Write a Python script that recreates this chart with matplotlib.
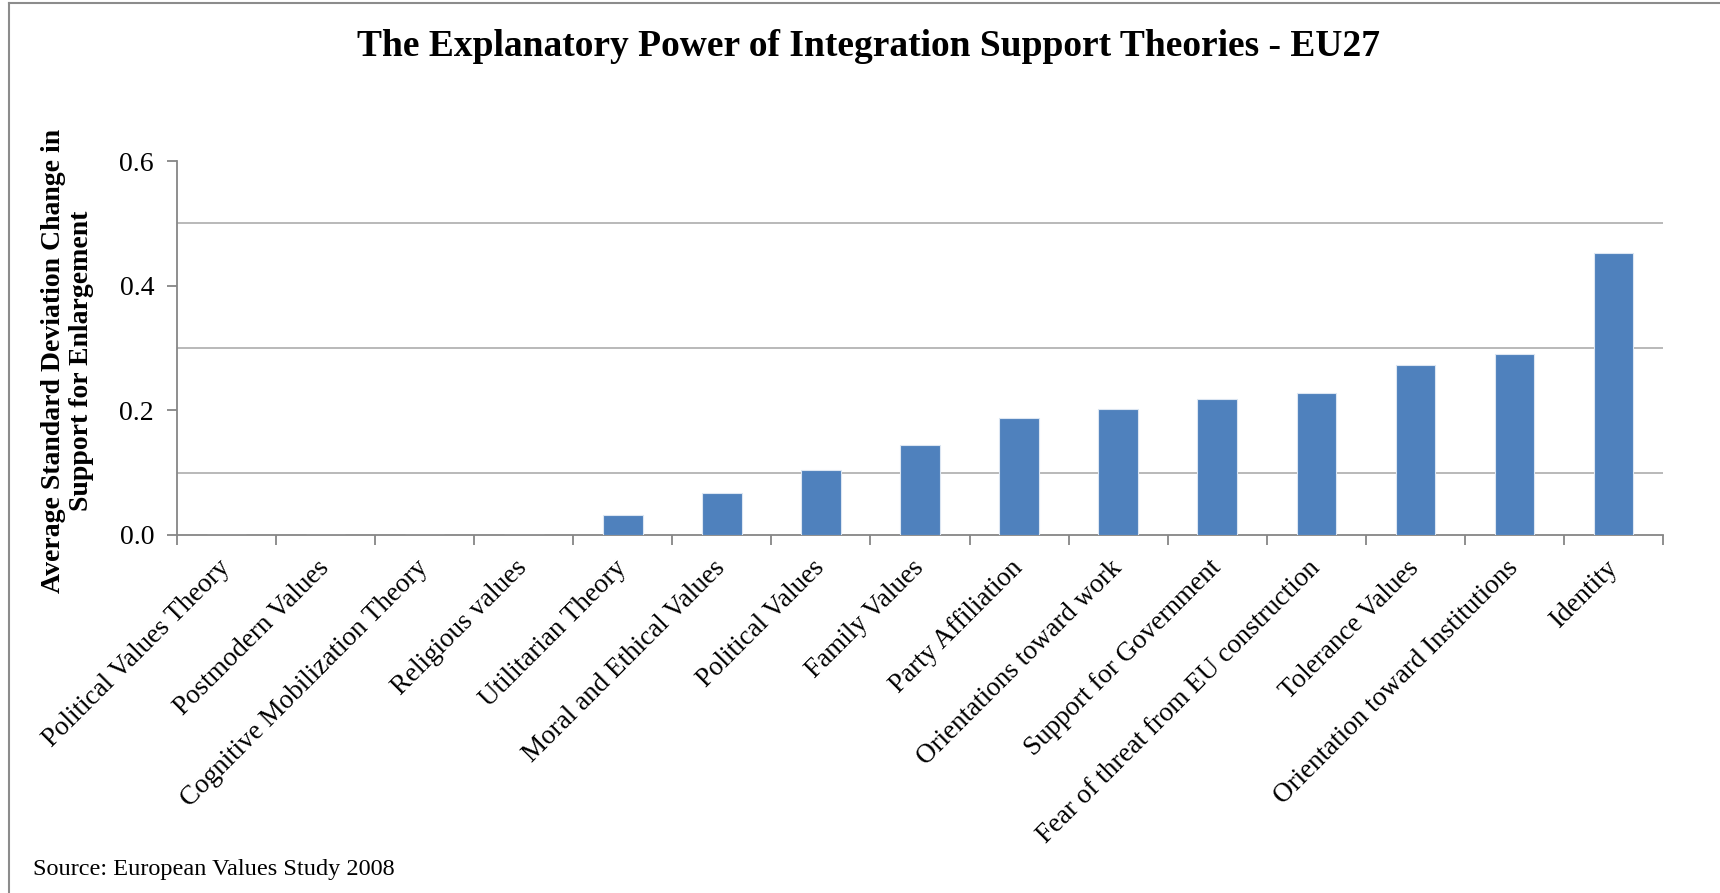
import matplotlib.pyplot as plt
from matplotlib import lines
import numpy as np

categories = ['Political Values Theory', 'Postmodern Values', 'Cognitive Mobilization Theory',
              'Religious values', 'Utilitarian Theory', 'Moral and Ethical Values',
              'Political Values', 'Family Values', 'Party Affiliation',
              'Orientations toward work', 'Support for Government',
              'Fear of threat from EU construction', 'Tolerance Values',
              'Orientation toward Institutions', 'Identity']
values = [0.0, 0.0, 0.0, 0.0, 0.032, 0.067, 0.104, 0.144, 0.188,
          0.202, 0.218, 0.228, 0.273, 0.290, 0.452]
y_ticks = [0.0, 0.2, 0.4, 0.6]
y_grid = [0.1, 0.3, 0.5]

plt.rcParams['font.family'] = 'Liberation Serif'
axis_grey = '#868686'

fig = plt.figure(figsize=(17.2, 8.93), dpi=100)
ax = fig.add_axes([0.1029, 0.4009, 0.864, 0.4188])

x = np.arange(len(categories))
ax.bar(x, values, width=0.4, color='#4F81BD', edgecolor='#dce6f2', linewidth=0.8, zorder=3)

ax.set_xlim(-0.5, len(categories) - 0.5)
ax.set_ylim(0, 0.6)
ax.set_yticks(y_ticks)
ax.set_yticklabels(['%.1f' % v for v in y_ticks], fontsize=20)
for g in y_grid:
    ax.axhline(g, color='#b3b3b3', linewidth=1.3, zorder=1)

ax.set_xticks(x)
ax.set_xticklabels(categories, rotation=45, ha='right', va='center',
                   rotation_mode='anchor', fontsize=19.5)
ax.set_xticks(np.arange(-0.5, len(categories), 1), minor=True)
ax.tick_params(axis='x', which='major', length=0, pad=21)
ax.tick_params(axis='x', which='minor', length=7, width=1.3, color=axis_grey, direction='out')
ax.tick_params(axis='y', length=7, width=1.3, color=axis_grey, direction='out', pad=9.5)

for side in ['top', 'right']:
    ax.spines[side].set_visible(False)
for side in ['left', 'bottom']:
    ax.spines[side].set_color(axis_grey)
    ax.spines[side].set_linewidth(1.3)

ax.set_ylabel('Average Standard Deviation Change in\nSupport for Enlargement',
              fontsize=20, fontweight='bold', linespacing=1.12)
ax.yaxis.set_label_coords(-0.056, 0.465)

fig.text(0.505, 0.948, 'The Explanatory Power of Integration Support Theories - EU27',
         ha='center', va='center', fontsize=27, fontweight='bold')
fig.text(0.019, 0.026, 'Source: European Values Study 2008', ha='left', va='center', fontsize=17.5)

# frame lines of the original chart box
fig.add_artist(lines.Line2D([0.0055, 0.0055], [0, 0.9966], transform=fig.transFigure, color='#8c8c8c', linewidth=1.5))
fig.add_artist(lines.Line2D([0.0055, 1], [0.9966, 0.9966], transform=fig.transFigure, color='#8c8c8c', linewidth=1.5))

fig.savefig('out.png', dpi=100)
